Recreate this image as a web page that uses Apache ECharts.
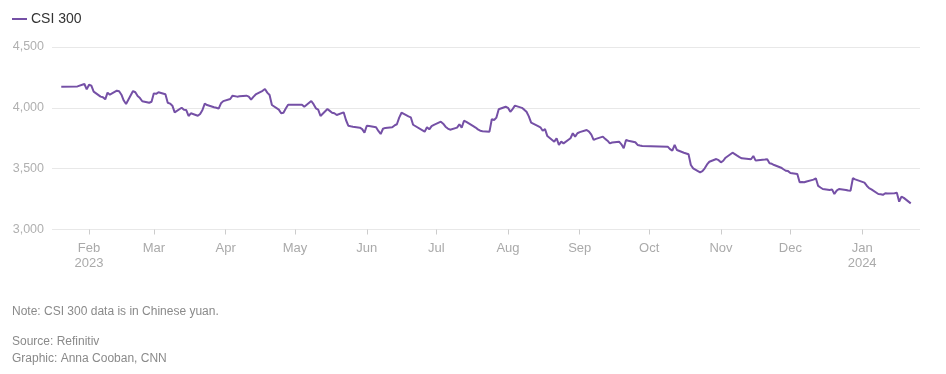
<!DOCTYPE html>
<html>
<head>
<meta charset="utf-8">
<script src="https://cdn.jsdelivr.net/npm/echarts@6/dist/echarts.min.js"></script>
<style>
html,body{margin:0;padding:0;background:#fff;}
#chart{width:946px;height:374px;}
</style>
</head>
<body>
<div id="chart"></div>
<script>
const seriesName = 'CSI 300';
const dates = [
'2023-01-20','2023-01-27','2023-01-30','2023-01-31',
'2023-02-01','2023-02-02','2023-02-03','2023-02-06','2023-02-07','2023-02-08','2023-02-09','2023-02-10',
'2023-02-13','2023-02-14','2023-02-15','2023-02-16','2023-02-17','2023-02-20','2023-02-21','2023-02-22',
'2023-02-23','2023-02-24','2023-02-27','2023-02-28',
'2023-03-01','2023-03-02','2023-03-03','2023-03-06','2023-03-07','2023-03-08','2023-03-09','2023-03-10',
'2023-03-13','2023-03-14','2023-03-15','2023-03-16','2023-03-17','2023-03-20','2023-03-21','2023-03-22',
'2023-03-23','2023-03-24','2023-03-27','2023-03-28','2023-03-29','2023-03-30','2023-03-31',
'2023-04-03','2023-04-04','2023-04-06','2023-04-07','2023-04-10','2023-04-11','2023-04-12','2023-04-13',
'2023-04-14','2023-04-17','2023-04-18','2023-04-19','2023-04-20','2023-04-21','2023-04-24','2023-04-25',
'2023-04-26','2023-04-27','2023-04-28',
'2023-05-04','2023-05-05','2023-05-08','2023-05-09','2023-05-10','2023-05-11','2023-05-12','2023-05-15',
'2023-05-16','2023-05-17','2023-05-18','2023-05-19','2023-05-22','2023-05-23','2023-05-24','2023-05-25',
'2023-05-26','2023-05-29','2023-05-30','2023-05-31',
'2023-06-01','2023-06-02','2023-06-05','2023-06-06','2023-06-07','2023-06-08','2023-06-09','2023-06-12',
'2023-06-13','2023-06-14','2023-06-15','2023-06-16','2023-06-19','2023-06-20','2023-06-21','2023-06-26',
'2023-06-27','2023-06-28','2023-06-29','2023-06-30',
'2023-07-03','2023-07-04','2023-07-05','2023-07-06','2023-07-07','2023-07-10','2023-07-11','2023-07-12',
'2023-07-13','2023-07-14','2023-07-17','2023-07-18','2023-07-19','2023-07-20','2023-07-21','2023-07-24',
'2023-07-25','2023-07-26','2023-07-27','2023-07-28','2023-07-31',
'2023-08-01','2023-08-02','2023-08-03','2023-08-04','2023-08-07','2023-08-08','2023-08-09','2023-08-10',
'2023-08-11','2023-08-14','2023-08-15','2023-08-16','2023-08-17','2023-08-18','2023-08-21','2023-08-22',
'2023-08-23','2023-08-24','2023-08-25','2023-08-28','2023-08-29','2023-08-30','2023-08-31',
'2023-09-01','2023-09-04','2023-09-05','2023-09-06','2023-09-07','2023-09-08','2023-09-11','2023-09-12',
'2023-09-13','2023-09-14','2023-09-15','2023-09-18','2023-09-19','2023-09-20','2023-09-21','2023-09-22',
'2023-09-25','2023-09-26','2023-09-27','2023-09-28',
'2023-10-09','2023-10-10','2023-10-11','2023-10-12','2023-10-13','2023-10-16','2023-10-17','2023-10-18',
'2023-10-19','2023-10-20','2023-10-23','2023-10-24','2023-10-25','2023-10-26','2023-10-27','2023-10-30',
'2023-10-31',
'2023-11-01','2023-11-02','2023-11-03','2023-11-06','2023-11-07','2023-11-08','2023-11-09','2023-11-10',
'2023-11-13','2023-11-14','2023-11-15','2023-11-16','2023-11-17','2023-11-20','2023-11-21','2023-11-22',
'2023-11-23','2023-11-24','2023-11-27','2023-11-28','2023-11-29','2023-11-30',
'2023-12-01','2023-12-04','2023-12-05','2023-12-06','2023-12-07','2023-12-08','2023-12-11','2023-12-12',
'2023-12-13','2023-12-14','2023-12-15','2023-12-18','2023-12-19','2023-12-20','2023-12-21','2023-12-22',
'2023-12-25','2023-12-26','2023-12-27','2023-12-28','2023-12-29',
'2024-01-02','2024-01-03','2024-01-04','2024-01-05','2024-01-08','2024-01-09','2024-01-10','2024-01-11',
'2024-01-12','2024-01-15','2024-01-16','2024-01-17','2024-01-18','2024-01-19','2024-01-22'
];
const values = [
4174,4176,4196,4152,
4190,4182,4133,4092,4087,4070,4125,4108,
4141,4136,4108,4060,4031,4138,4128,4097,
4080,4054,4042,4050,
4119,4115,4128,4111,4042,4035,4018,3963,
4001,3985,3982,3933,3955,3935,3950,3982,
4034,4023,4005,4001,3993,4037,4055,
4073,4100,4092,4095,4100,4092,4067,4090,
4110,4140,4155,4125,4105,4023,3985,3955,
3960,3995,4025,
4026,4009,4056,4030,3996,3985,3933,3990,
3975,3960,3955,3941,3963,3900,3853,3848,
3845,3837,3825,3796,
3853,3850,3840,3810,3785,3828,3835,3840,
3855,3865,3920,3960,3930,3922,3861,3804,
3840,3823,3850,3860,
3886,3870,3845,3830,3820,3837,3865,3837,
3894,3885,3850,3838,3823,3812,3808,3804,
3906,3900,3920,3988,4009,
4000,3968,3990,4018,4000,3985,3968,3930,
3878,3850,3840,3812,3825,3768,3722,3750,
3695,3722,3708,3750,3791,3763,3791,
3800,3818,3805,3780,3736,3745,3763,3745,
3730,3708,3715,3722,3700,3667,3736,3730,
3717,3695,3690,3686,
3681,3660,3648,3695,3653,3631,3625,3618,
3530,3503,3470,3480,3503,3535,3557,3579,
3570,
3552,3565,3590,3631,3620,3607,3595,3585,
3580,3577,3604,3566,3570,3575,3577,3544,
3540,3530,3508,3495,3483,3480,
3465,3456,3388,3390,3388,3395,3410,3421,
3358,3345,3333,3325,3330,3292,3320,3333,
3325,3320,3319,3421,3412,
3385,3360,3340,3330,3292,3290,3285,3298,
3295,3298,3302,3229,3270,3260,3215
];
const tickDates = ['2023-02-01','2023-03-01','2023-04-01','2023-05-01','2023-06-01','2023-07-01',
  '2023-08-01','2023-09-01','2023-10-01','2023-11-01','2023-12-01','2024-01-01'];
const tickLabels = ['Feb\n2023','Mar','Apr','May','Jun','Jul','Aug','Sep','Oct','Nov','Dec','Jan\n2024'];
const yMin = 3000, yMax = 4500, yStep = 500;
const xStart = '2023-01-16', xEnd = '2024-01-26';
const noteText = 'Note: CSI 300 data is in Chinese yuan.';
const sourceText = 'Source: Refinitiv';
const creditText = 'Graphic: Anna Cooban, CNN';

function ts(s){ const p = s.split('-').map(Number); return Date.UTC(p[0], p[1]-1, p[2]); }
const tickTs = tickDates.map(ts);
const FONT = '"Liberation Sans", Arial, sans-serif';
const chart = echarts.init(document.getElementById('chart'));
chart.setOption({
  animation: false,
  backgroundColor: '#fff',
  textStyle: { fontFamily: FONT },
  grid: { left: 52, right: 26, top: 47, bottom: 144.5, containLabel: false },
  legend: {
    left: 7, top: 7, itemWidth: 15, itemHeight: 2, icon: 'rect', itemGap: 10,
    textStyle: { color: '#333', fontSize: 14, fontFamily: FONT, padding: [0,0,0,-1] },
    data: [seriesName]
  },
  xAxis: {
    type: 'value', min: ts(xStart), max: ts(xEnd), scale: true,
    axisLine: { show: false },
    axisTick: { show: true, customValues: tickTs, length: 5, lineStyle: { color: '#cccccc' } },
    axisLabel: {
      customValues: tickTs, color: '#aaaaaa', fontSize: 13, lineHeight: 15, margin: 11,
      formatter: function(v){ let best = 0, bd = Infinity; tickTs.forEach((t,i)=>{ const d = Math.abs(t-v); if (d<bd){bd=d;best=i;} }); return tickLabels[best]; }
    },
    splitLine: { show: false }
  },
  yAxis: {
    type: 'value', min: yMin, max: yMax, interval: yStep,
    axisLine: { show: false }, axisTick: { show: false },
    axisLabel: { color: '#b0b0b0', fontSize: 12.5, margin: 8,
      formatter: v => v.toLocaleString('en-US') },
    splitLine: { lineStyle: { color: '#e8e8e8', width: 1 } }
  },
  series: [{
    name: seriesName, type: 'line', showSymbol: false, symbol: 'none',
    lineStyle: { color: '#7550a6', width: 2 }, itemStyle: { color: '#7550a6' },
    data: dates.map((d,i)=>[ts(d), values[i]])
  }],
  graphic: [
    { type: 'text', left: 12, top: 306, style: { text: noteText, fill: '#8a8a8a', font: '12px ' + FONT } },
    { type: 'text', left: 12, top: 336, style: { text: sourceText, fill: '#8a8a8a', font: '12px ' + FONT } },
    { type: 'text', left: 12, top: 353, style: { text: creditText, fill: '#8a8a8a', font: '12px ' + FONT } }
  ]
});
</script>
</body>
</html>
